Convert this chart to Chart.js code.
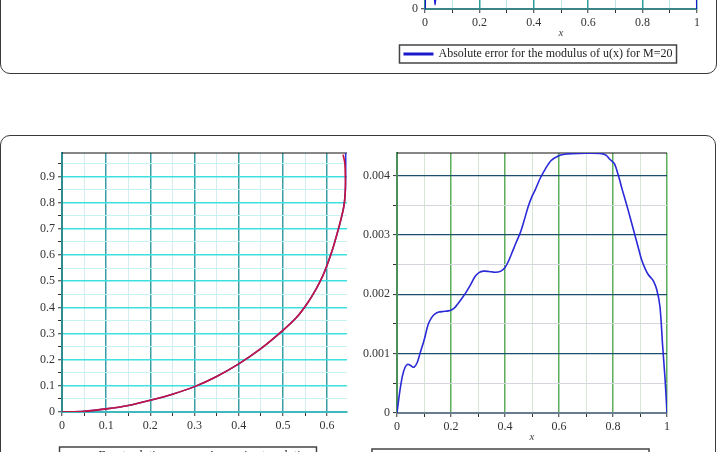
<!DOCTYPE html>
<html>
<head>
<meta charset="utf-8">
<script src="https://cdn.jsdelivr.net/npm/chart.js@4"></script>
<style>
  html, body { margin: 0; padding: 0; background: #fff; width: 721px; height: 452px; overflow: hidden; }
  .panel { position: absolute; box-sizing: border-box; border: 1.5px solid #3a3a3a; border-radius: 10px; background: #fff; }
  canvas { position: absolute; }
</style>
</head>
<body>
<div class="panel" style="left:0;top:-120px;width:717px;height:194px"></div>
<div class="panel" style="left:0;top:135px;width:716px;height:420px"></div>
<canvas id="topChart" width="330" height="356" style="left:380px;top:-286px"></canvas>
<canvas id="leftChart" width="325" height="332" style="left:30px;top:140px"></canvas>
<canvas id="rightChart" width="325" height="334" style="left:355px;top:140px"></canvas>
<script>
// top panel: absolute error of |u(x)|, M=20 (only the bottom strip is on screen)
const topX = [0, 0.004, 0.012, 0.022, 0.03, 0.037, 0.045, 0.06, 0.1, 0.2, 0.3, 0.4, 0.5, 0.6, 0.7, 0.8, 0.9, 0.96, 0.99, 0.997, 1];
const topY = [0, 0.00025, 0.00042, 0.0003, 0.0001, 0.00001, 0.0001, 0.00028, 0.0004, 0.00045, 0.0005, 0.00052, 0.00055, 0.00054, 0.0005, 0.00048, 0.00045, 0.0004, 0.00035, 0.0002, 0];

// bottom left: two almost identical curves
const curveX = [0, 0.05, 0.1, 0.15, 0.2, 0.25, 0.3, 0.35, 0.4, 0.45, 0.5, 0.53, 0.555, 0.575, 0.59, 0.6, 0.612, 0.623, 0.631, 0.638, 0.641, 0.6415, 0.64, 0.636];
const redY   = [0, 0.003, 0.012, 0.025, 0.045, 0.068, 0.097, 0.136, 0.184, 0.242, 0.312, 0.36, 0.415, 0.47, 0.52, 0.562, 0.62, 0.684, 0.735, 0.786, 0.84, 0.888, 0.952, 0.984];
const blueX  = [0, 0.05, 0.1, 0.15, 0.2, 0.25, 0.3, 0.35, 0.4, 0.45, 0.5, 0.53, 0.555, 0.575, 0.59, 0.6, 0.612, 0.623, 0.632, 0.639, 0.6415, 0.642, 0.642];
const blueY  = [0, 0.003, 0.012, 0.025, 0.045, 0.068, 0.097, 0.136, 0.184, 0.242, 0.312, 0.36, 0.415, 0.47, 0.52, 0.562, 0.62, 0.684, 0.74, 0.8, 0.86, 0.93, 0.99];

// bottom right: absolute error
const errX = [0, 0.01, 0.02, 0.03, 0.04, 0.05, 0.063, 0.075, 0.085, 0.1, 0.116, 0.13, 0.141, 0.155, 0.171, 0.19, 0.203, 0.215, 0.227, 0.24, 0.254, 0.27, 0.289, 0.305, 0.32, 0.34, 0.363, 0.385, 0.4, 0.412, 0.425, 0.44, 0.456, 0.47, 0.486, 0.5, 0.511, 0.53, 0.548, 0.57, 0.597, 0.62, 0.647, 0.7, 0.758, 0.775, 0.789, 0.805, 0.82, 0.835, 0.851, 0.866, 0.881, 0.894, 0.906, 0.92, 0.931, 0.942, 0.95, 0.962, 0.974, 0.984, 0.993, 1];
const errY = [0, 0.00035, 0.00062, 0.00077, 0.00082, 0.0008, 0.00077, 0.00085, 0.001, 0.00122, 0.0015, 0.00162, 0.00167, 0.0017, 0.00171, 0.00172, 0.00174, 0.00178, 0.00185, 0.00193, 0.00202, 0.00214, 0.0023, 0.00237, 0.00239, 0.002385, 0.00237, 0.00239, 0.00245, 0.00255, 0.00269, 0.00286, 0.00303, 0.00323, 0.00348, 0.00365, 0.00375, 0.00395, 0.0041, 0.00425, 0.00433, 0.00436, 0.00437, 0.004375, 0.00437, 0.00434, 0.00427, 0.0042, 0.004, 0.00375, 0.0035, 0.00325, 0.003, 0.00278, 0.00258, 0.00242, 0.00233, 0.00227, 0.00222, 0.00208, 0.00179, 0.00112, 0.00056, 0];

const topLabel = 'Absolute error for the modulus of u(x) for M=20';
const leftLabels = ['Exact solution', 'Approximate solution'];
const rightLabel = 'Absolute error for the modulus of u(x) for M=10';

const serif = 'Liberation Serif';
const pts = (xs, ys) => xs.map((x, i) => ({ x: x, y: ys[i] }));
const onStep = (v, s) => Math.abs(v / s - Math.round(v / s)) < 1e-6;
const fmt = v => String(parseFloat(v.toFixed(5)));

function axis(opts) {
  return {
    type: 'linear',
    min: opts.min, max: opts.max,
    border: { color: opts.border, width: opts.borderWidth || 2 },
    grid: {
      color: c => onStep(c.tick.value, opts.major) ? opts.majorColor : opts.minorColor,
      lineWidth: c => onStep(c.tick.value, opts.major) ? (opts.majorWidth || 1.5) : 1,
      tickColor: '#333', tickLength: 4, tickWidth: 1
    },
    ticks: {
      stepSize: opts.step, includeBounds: false, autoSkip: false, maxRotation: 0,
      padding: 3, color: '#333', font: { family: serif, size: 12 },
      callback: v => onStep(v, opts.major) ? fmt(v) : ''
    },
    title: opts.title ? { display: true, text: opts.title, color: '#444', padding: { top: 0, bottom: 2 }, font: { family: serif, size: 11, style: 'italic' } } : { display: false },
    afterFit: opts.fit
  };
}

const legendFrame = {
  id: 'legendFrame',
  afterDraw(chart) {
    const hb = chart.legend && chart.legend.legendHitBoxes;
    if (!hb || !hb.length) return;
    const a = hb[0], b = hb[hb.length - 1];
    const c = chart.ctx;
    c.save();
    c.strokeStyle = '#444';
    c.lineWidth = 1.5;
    c.strokeRect(a.left - 5, a.top - 3, b.left + b.width - a.left + 9, a.height + 6);
    c.restore();
  }
};

const plotFrame = {
  id: 'plotFrame',
  beforeDatasetsDraw(chart) {
    const a = chart.chartArea, c = chart.ctx;
    c.save();
    c.strokeStyle = '#111';
    c.lineWidth = 1.2;
    c.beginPath();
    c.moveTo(a.left, a.top);
    c.lineTo(a.right, a.top);
    c.stroke();
    c.restore();
  }
};

function legendOpts() {
  return {
    position: 'bottom',
    labels: { boxWidth: 28, boxHeight: 1, padding: 6, color: '#222', font: { family: serif, size: 12 } }
  };
}

function line(label, data, color, width) {
  return {
    label: label, data: data, showLine: true, pointRadius: 0,
    borderColor: color, backgroundColor: color, borderWidth: width,
    tension: 0.3
  };
}

new Chart(document.getElementById('topChart'), {
  type: 'scatter',
  data: { datasets: [line(topLabel, pts(topX, topY), '#1a1acc', 2)] },
  options: {
    responsive: false, animation: false,
    layout: { padding: { left: 0, right: 13, top: 40, bottom: 0 } },
    plugins: { legend: legendOpts(), tooltip: { enabled: false } },
    scales: {
      x: axis({ min: 0, max: 1, step: 0.1, major: 0.2, majorColor: '#2e9c9c', minorColor: '#bfe4e4', border: '#3c8486', title: 'x', fit: s => { s.height = 33; } }),
      y: axis({ min: 0, max: 0.0006, step: 0.0001, major: 0.0002, majorColor: '#3ee0e0', minorColor: '#c4f3f3', border: '#2e8c8c', fit: s => { s.width = 45; } })
    }
  },
  plugins: [legendFrame, plotFrame]
});

// red drawn last on top (lower index = on top in Chart.js)
new Chart(document.getElementById('leftChart'), {
  type: 'scatter',
  data: {
    datasets: [
      line(leftLabels[0], pts(curveX, redY), '#c8143c', 1.6),
      line(leftLabels[1], pts(blueX, blueY), '#3030e0', 1.6)
    ]
  },
  options: {
    responsive: false, animation: false,
    layout: { padding: { left: 0, right: 8, top: 13, bottom: 0 } },
    plugins: { legend: legendOpts(), tooltip: { enabled: false } },
    scales: {
      x: axis({ min: 0, max: 0.645, step: 0.05, major: 0.1, majorColor: '#3a9ea6', minorColor: '#d2eeee', border: '#3fb8c0', fit: s => { s.height = 32; } }),
      y: axis({ min: 0, max: 0.99, step: 0.05, major: 0.1, majorColor: '#3ee0e0', minorColor: '#c4f3f3', border: '#2e8c90', fit: s => { s.width = 32; } })
    }
  },
  plugins: [legendFrame, plotFrame]
});

new Chart(document.getElementById('rightChart'), {
  type: 'scatter',
  data: { datasets: [line(rightLabel, pts(errX, errY), '#2a2ad8', 1.6)] },
  options: {
    responsive: false, animation: false,
    layout: { padding: { left: 0, right: 13, top: 13, bottom: 0 } },
    plugins: { legend: legendOpts(), tooltip: { enabled: false } },
    scales: {
      x: axis({ min: 0, max: 1, step: 0.1, major: 0.2, majorColor: '#5cae5c', minorColor: '#d5e6d5', border: '#6a7d90', title: 'x', fit: s => { s.height = 33; } }),
      y: axis({ min: 0, max: 0.00438, step: 0.0005, major: 0.001, majorColor: '#1d4e6e', minorColor: '#d3d6dc', majorWidth: 1.2, border: '#4d8f5a', fit: s => { s.width = 42; } })
    }
  },
  plugins: [legendFrame, plotFrame]
});
</script>
</body>
</html>
